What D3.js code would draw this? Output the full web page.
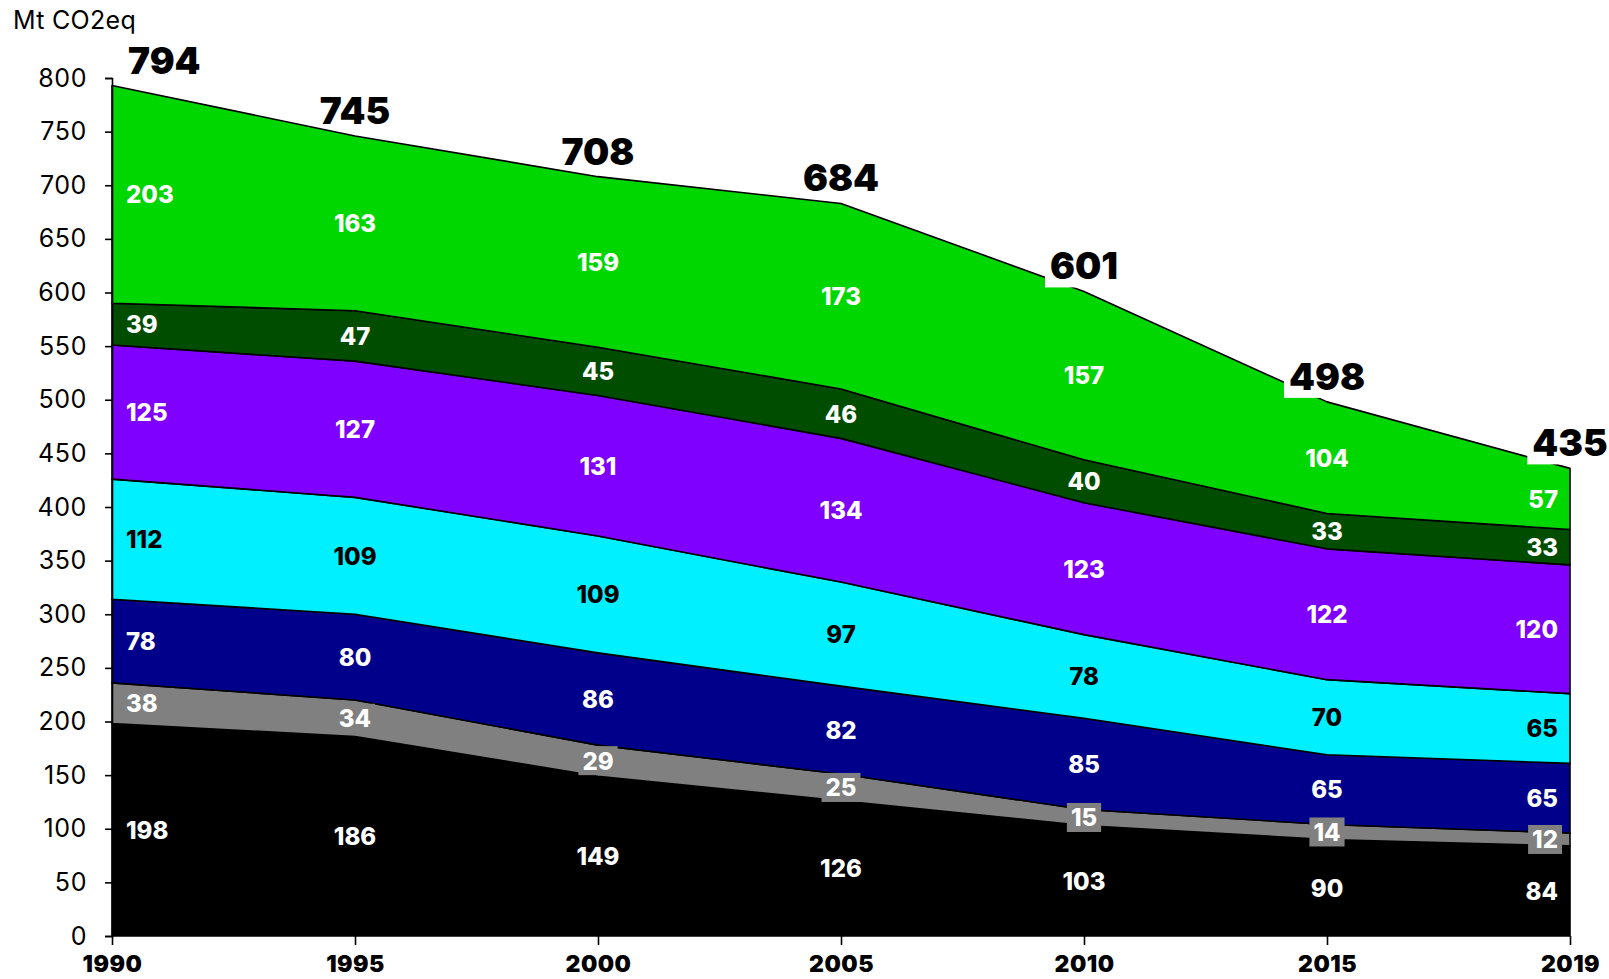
<!DOCTYPE html>
<html>
<head>
<meta charset="utf-8">
<script src="https://cdn.jsdelivr.net/npm/d3@7"></script>
<style>
  html, body { margin: 0; padding: 0; background: #fff; }
  svg { display: block; font-family: Inter, "Liberation Sans", Arial, sans-serif; }
</style>
</head>
<body>
<svg id="chart" width="1609" height="979"></svg>
<script>
// Emissions by sector, Mt CO2eq, stacked bottom to top
const years = ["1990", "1995", "2000", "2005", "2010", "2015", "2019"];
const totals = [794, 745, 708, 684, 601, 498, 435];

const blackSeries  = [198, 186, 149, 126, 103, 90, 84];
const greySeries   = [38, 34, 29, 25, 15, 14, 12];
const navySeries   = [78, 80, 86, 82, 85, 65, 65];
const cyanSeries   = [112, 109, 109, 97, 78, 70, 65];
const purpleSeries = [125, 127, 131, 134, 123, 122, 120];
const dkGreenSeries = [39, 47, 45, 46, 40, 33, 33];
const greenSeries  = [203, 163, 159, 173, 157, 104, 57];

const yTicks = [0, 50, 100, 150, 200, 250, 300, 350, 400, 450, 500, 550, 600, 650, 700, 750, 800];

const layers = [
  { key: "black",   values: blackSeries,   fill: "#000000", text: "#ffffff", box: false },
  { key: "grey",    values: greySeries,    fill: "#808080", text: "#ffffff", box: true },
  { key: "navy",    values: navySeries,    fill: "#00008b", text: "#ffffff", box: false },
  { key: "cyan",    values: cyanSeries,    fill: "#00f0ff", text: "#000000", box: false },
  { key: "purple",  values: purpleSeries,  fill: "#7f00ff", text: "#ffffff", box: false },
  { key: "dkgreen", values: dkGreenSeries, fill: "#004d00", text: "#ffffff", box: false },
  { key: "green",   values: greenSeries,   fill: "#00d600", text: "#ffffff", box: false }
];

const rows = years.map((y, i) => {
  const r = { year: y };
  layers.forEach(l => { r[l.key] = l.values[i]; });
  return r;
});

const svg = d3.select("#chart");
const x = d3.scalePoint().domain(years).range([112, 1570]);
const y = d3.scaleLinear().domain([0, 800]).range([936, 78]);

const stack = d3.stack().keys(layers.map(l => l.key));
const stacked = stack(rows);

const area = d3.area()
  .x(d => x(d.data.year))
  .y0(d => y(d[0]))
  .y1(d => y(d[1]));

svg.append("g").selectAll("path")
  .data(stacked)
  .join("path")
  .attr("d", area)
  .attr("fill", (d, i) => layers[i].fill)
  .attr("stroke", "#000")
  .attr("stroke-width", 1.6)
  .attr("stroke-linejoin", "round");

// Axes
const yAxis = svg.append("g")
  .attr("transform", `translate(${x(years[0])},0)`)
  .call(d3.axisLeft(y).tickValues(yTicks).tickSize(7).tickPadding(18).tickFormat(d3.format("d")));
yAxis.select(".domain").attr("stroke-width", 1.6);
yAxis.selectAll(".tick line").attr("stroke-width", 1.6);
yAxis.selectAll("text")
  .attr("font-size", 25).attr("font-weight", 400).attr("fill", "#000")
  .attr("letter-spacing", 0.6)
  .attr("font-family", "Inter, 'Liberation Sans', Arial, sans-serif");

const xAxis = svg.append("g")
  .attr("transform", `translate(0,${y(0)})`)
  .call(d3.axisBottom(x).tickSize(9));
xAxis.select(".domain").remove();
xAxis.selectAll(".tick line").attr("stroke-width", 1.6);
xAxis.selectAll("text")
  .attr("y", 36).attr("dy", null)
  .attr("font-size", 23).attr("font-weight", 900).attr("fill", "#000")
  .attr("letter-spacing", 0.5)
  .attr("font-family", "Inter, 'Liberation Sans', Arial, sans-serif");

svg.append("text")
  .attr("x", 13).attr("y", 28.5)
  .attr("font-size", 25).attr("font-weight", 400)
  .attr("letter-spacing", 0.3)
  .text("Mt CO2eq");

// Anchor helpers: first point left-aligned, last right-aligned, others centred
const last = years.length - 1;
function anchorFor(i) { return i === 0 ? "start" : (i === last ? "end" : "middle"); }
function xFor(i) { return x(years[i]) + (i === 0 ? 14 : (i === last ? -12 : 0)); }

// Segment labels
const labelG = svg.append("g");
stacked.forEach((s, li) => {
  const L = layers[li];
  s.forEach((d, i) => {
    const cy = y((d[0] + d[1]) / 2);
    const g = labelG.append("g");
    const t = g.append("text")
      .attr("x", xFor(i))
      .attr("y", cy)
      .attr("dy", "0.37em")
      .attr("text-anchor", anchorFor(i))
      .attr("font-size", 24)
      .attr("font-weight", 800)
      .attr("fill", L.text)
      .text(L.values[i]);
    if (L.box) {
      const b = t.node().getBBox();
      g.insert("rect", "text")
        .attr("x", b.x - 4).attr("y", cy - 14.5)
        .attr("width", b.width + 8).attr("height", 29)
        .attr("fill", L.fill);
    }
  });
});

// Total labels above the top edge; the later, lower ones sit on white boxes
const topG = svg.append("g");
const topSeries = stacked[stacked.length - 1];
totals.forEach((v, i) => {
  const py = y(topSeries[i][1]);
  const tx = i === 0 ? x(years[i]) + 16 : x(years[i]);
  const g = topG.append("g");
  const t = g.append("text")
    .attr("x", tx)
    .attr("y", py - 12)
    .attr("text-anchor", i === 0 ? "start" : "middle")
    .attr("font-size", 37)
    .attr("font-weight", 900)
    .attr("fill", "#000")
    .text(v);
  if (i >= 4) {
    const b = t.node().getBBox();
    g.insert("rect", "text")
      .attr("x", b.x - 5).attr("y", b.y)
      .attr("width", b.width + 10).attr("height", (py - 4) - b.y)
      .attr("fill", "#fff");
  }
});
</script>
</body>
</html>
